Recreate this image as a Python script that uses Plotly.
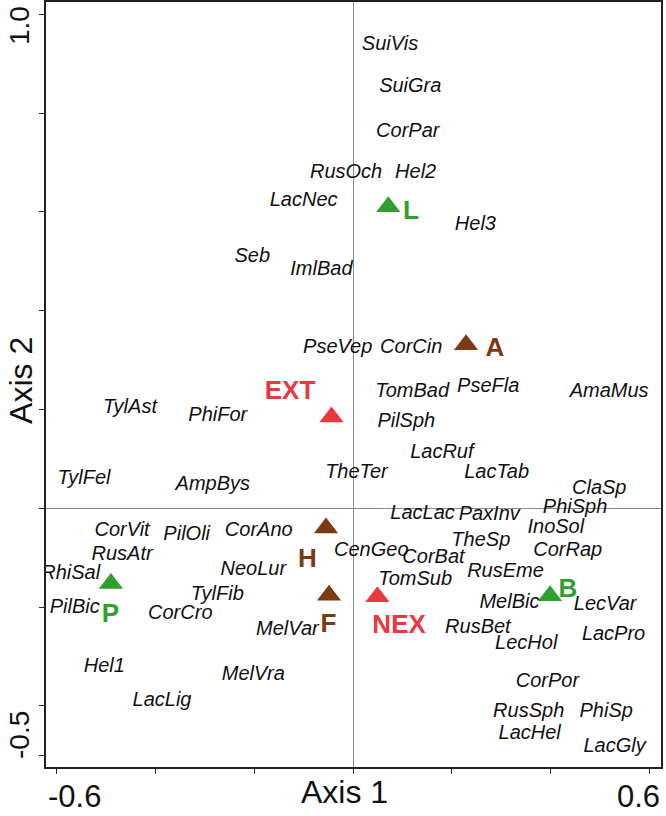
import plotly.graph_objects as go

# ---------------- data ----------------
species = ["SuiVis", "SuiGra", "CorPar", "RusOch", "Hel2", "LacNec", "Hel3", "Seb",
           "ImlBad", "PseVep", "CorCin", "PseFla", "AmaMus", "TomBad", "TylAst", "PhiFor",
           "PilSph", "LacRuf", "TheTer", "LacTab", "TylFel", "AmpBys", "ClaSp", "PhiSph",
           "LacLac", "PaxInv", "InoSol", "CorVit", "PilOli", "CorAno", "TheSp", "CenGeo",
           "CorRap", "RusAtr", "CorBat", "RusEme", "NeoLur", "RhiSal", "TomSub", "TylFib",
           "MelBic", "LecVar", "PilBic", "CorCro", "MelVar", "RusBet", "LacPro", "LecHol",
           "Hel1", "MelVra", "CorPor", "LacLig", "RusSph", "PhiSp", "LacHel", "LacGly"]
species_x = [0.075, 0.116, 0.111, -0.014, 0.127, -0.100, 0.248, -0.204,
             -0.064, -0.031, 0.118, 0.274, 0.519, 0.120, -0.452, -0.274,
             0.108, 0.180, 0.007, 0.291, -0.545, -0.284, 0.499, 0.450,
             0.141, 0.276, 0.411, -0.468, -0.337, -0.191, 0.259, 0.037,
             0.435, -0.468, 0.163, 0.309, -0.202, -0.572, 0.126, -0.275,
             0.317, 0.511, -0.564, -0.350, -0.133, 0.253, 0.528, 0.351,
             -0.504, -0.202, 0.394, -0.387, 0.356, 0.513, 0.358, 0.530]
species_y = [0.938, 0.853, 0.762, 0.678, 0.678, 0.622, 0.573, 0.509,
             0.482, 0.324, 0.324, 0.245, 0.235, 0.235, 0.203, 0.187,
             0.175, 0.111, 0.071, 0.071, 0.059, 0.047, 0.039, 0.000,
             -0.012, -0.014, -0.040, -0.046, -0.054, -0.046, -0.067, -0.087,
             -0.087, -0.095, -0.101, -0.128, -0.125, -0.132, -0.145, -0.176,
             -0.192, -0.196, -0.202, -0.213, -0.246, -0.243, -0.256, -0.275,
             -0.321, -0.337, -0.351, -0.391, -0.413, -0.413, -0.457, -0.484]

groups = ["L", "A", "EXT", "H", "P", "F", "NEX", "B"]
group_x = [0.0715, 0.229, -0.0436, -0.0547, -0.4906, -0.0486, 0.0494, 0.3992]
group_y = [0.6105, 0.331, 0.185, -0.040, -0.152, -0.176, -0.179, -0.177]
group_label_x = [0.1175, 0.2877, -0.1276, -0.0922, -0.4916, -0.0498, 0.0934, 0.4356]
group_label_y = [0.598, 0.322, 0.235, -0.105, -0.216, -0.238, -0.240, -0.166]

x_ticks = [-0.6, -0.4, -0.2, 0.0, 0.2, 0.4, 0.6]
y_ticks = [-0.5, -0.4, -0.2, 0.0, 0.2, 0.4, 0.6, 0.8, 1.0]
# labelled ticks and where the labels sit along each axis
x_tick_labels = ["-0.6", "0.6"]
x_tick_label_at = [-0.565, 0.579]
y_tick_labels = ["-0.5", "1.0"]
y_tick_label_at = [-0.459, 0.978]

x_title = "Axis 1"
y_title = "Axis 2"

# ---------------- styles ----------------
GREEN = "#2EA02E"
BROWN = "#7B3A10"
RED = "#E8393E"
INK = "#111111"
group_color = {"L": GREEN, "P": GREEN, "B": GREEN,
               "A": BROWN, "H": BROWN, "F": BROWN,
               "EXT": RED, "NEX": RED}
FONT = "Liberation Sans, Arial, sans-serif"
colors = [group_color[g] for g in groups]

fig = go.Figure()

fig.add_trace(go.Scatter(
    x=species_x, y=species_y, text=species, mode="text",
    textposition="middle center",
    textfont=dict(family=FONT, size=20, style="italic", color=INK),
    hoverinfo="text", showlegend=False))

fig.add_trace(go.Scatter(
    x=group_x, y=group_y, mode="markers",
    marker=dict(symbol="triangle-up", size=21, color=colors, line=dict(width=0)),
    text=groups, hoverinfo="text", showlegend=False))

fig.add_trace(go.Scatter(
    x=group_label_x, y=group_label_y, text=groups, mode="text",
    textposition="middle center",
    textfont=dict(family=FONT, size=26, weight="bold", color=colors),
    hoverinfo="skip", showlegend=False))

axis_common = dict(showgrid=False, showline=True, mirror=True, linecolor="#222222",
                   linewidth=1.5, ticks="outside", ticklen=5, tickwidth=1.3,
                   tickcolor="#222222", zeroline=True, zerolinecolor="#8C8C8C",
                   zerolinewidth=1.2, showticklabels=False, automargin=False)

fig.update_xaxes(range=[-0.6221, 0.6241], tickvals=x_ticks, **axis_common)
fig.update_yaxes(range=[-0.5237, 1.0249], tickvals=y_ticks, **axis_common)

for lab, pos in zip(x_tick_labels, x_tick_label_at):
    fig.add_annotation(text=lab, xref="x", yref="paper", x=pos, y=-0.038,
                       xanchor="center", yanchor="middle", showarrow=False,
                       font=dict(family=FONT, size=31, color=INK))
for lab, pos in zip(y_tick_labels, y_tick_label_at):
    fig.add_annotation(text=lab, xref="paper", yref="y", x=-0.044, y=pos,
                       xanchor="center", yanchor="middle", textangle=-90,
                       showarrow=False, font=dict(family=FONT, size=28, color=INK))

fig.add_annotation(text=x_title, xref="paper", yref="paper", x=0.486, y=-0.033,
                   xanchor="center", yanchor="middle", showarrow=False,
                   font=dict(family=FONT, size=32, color=INK))
fig.add_annotation(text=y_title, xref="paper", yref="paper", x=-0.0407, y=0.506,
                   xanchor="center", yanchor="middle", textangle=-90, showarrow=False,
                   font=dict(family=FONT, size=32, color=INK))

fig.update_layout(width=666, height=816, margin=dict(l=46, r=5, t=2, b=49),
                  paper_bgcolor="white", plot_bgcolor="white")

fig.write_html("out.html", config={"displayModeBar": False},
               post_script="document.body.style.margin='0';"
                           "document.body.style.overflow='hidden';")
